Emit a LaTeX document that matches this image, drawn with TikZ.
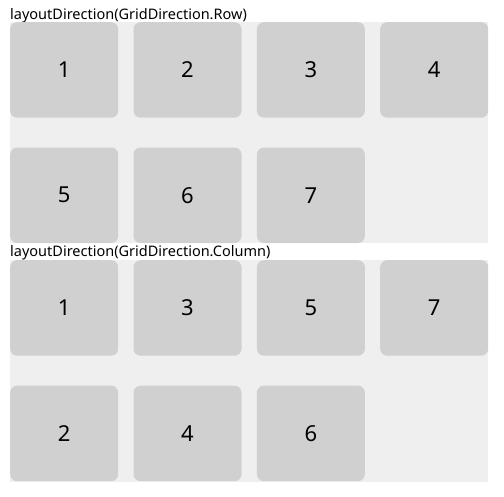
\documentclass[tikz,border=0pt]{standalone}
\usepackage{fontspec}
\setmainfont{Noto Sans}
\definecolor{gridbg}{HTML}{EFEFEF}
\definecolor{cellbg}{HTML}{D0D0D0}
\begin{document}
\begin{tikzpicture}[x=1pt,y=-1pt,
  cell/.style={fill=cellbg,rounded corners=7pt,minimum width=108pt,minimum height=95.5pt,inner sep=0pt,anchor=north west,font=\fontsize{22}{22}\selectfont,text=black},
  gridarea/.style={fill=gridbg},
  caption/.style={anchor=base west,inner sep=0pt,font=\fontsize{14.5}{14.5}\selectfont,text=black}]
\useasboundingbox (0,0) rectangle (504,496);
\fill[white] (0,0) rectangle (504,496);
% top grid
\node[caption] (t1) at (10,19) {layoutDirection(GridDirection.Row)};
\fill[gridarea] (10,22) rectangle (488,243);
\node[cell] (r1) at (10,22) {1};
\node[cell] (r2) at (133.3,22) {2};
\node[cell] (r3) at (256.7,22) {3};
\node[cell] (r4) at (380,22) {4};
\node[cell] (r5) at (10,147.3) {5};
\node[cell] (r6) at (133.3,147.3) {6};
\node[cell] (r7) at (256.7,147.3) {7};
% bottom grid
\node[caption] (t2) at (10,256) {layoutDirection(GridDirection.Column)};
\fill[gridarea] (10,260) rectangle (488,482);
\node[cell] (c1) at (10,260) {1};
\node[cell] (c3) at (133.3,260) {3};
\node[cell] (c5) at (256.7,260) {5};
\node[cell] (c7) at (380,260) {7};
\node[cell] (c2) at (10,385.5) {2};
\node[cell] (c4) at (133.3,385.5) {4};
\node[cell] (c6) at (256.7,385.5) {6};
\end{tikzpicture}
\end{document}
